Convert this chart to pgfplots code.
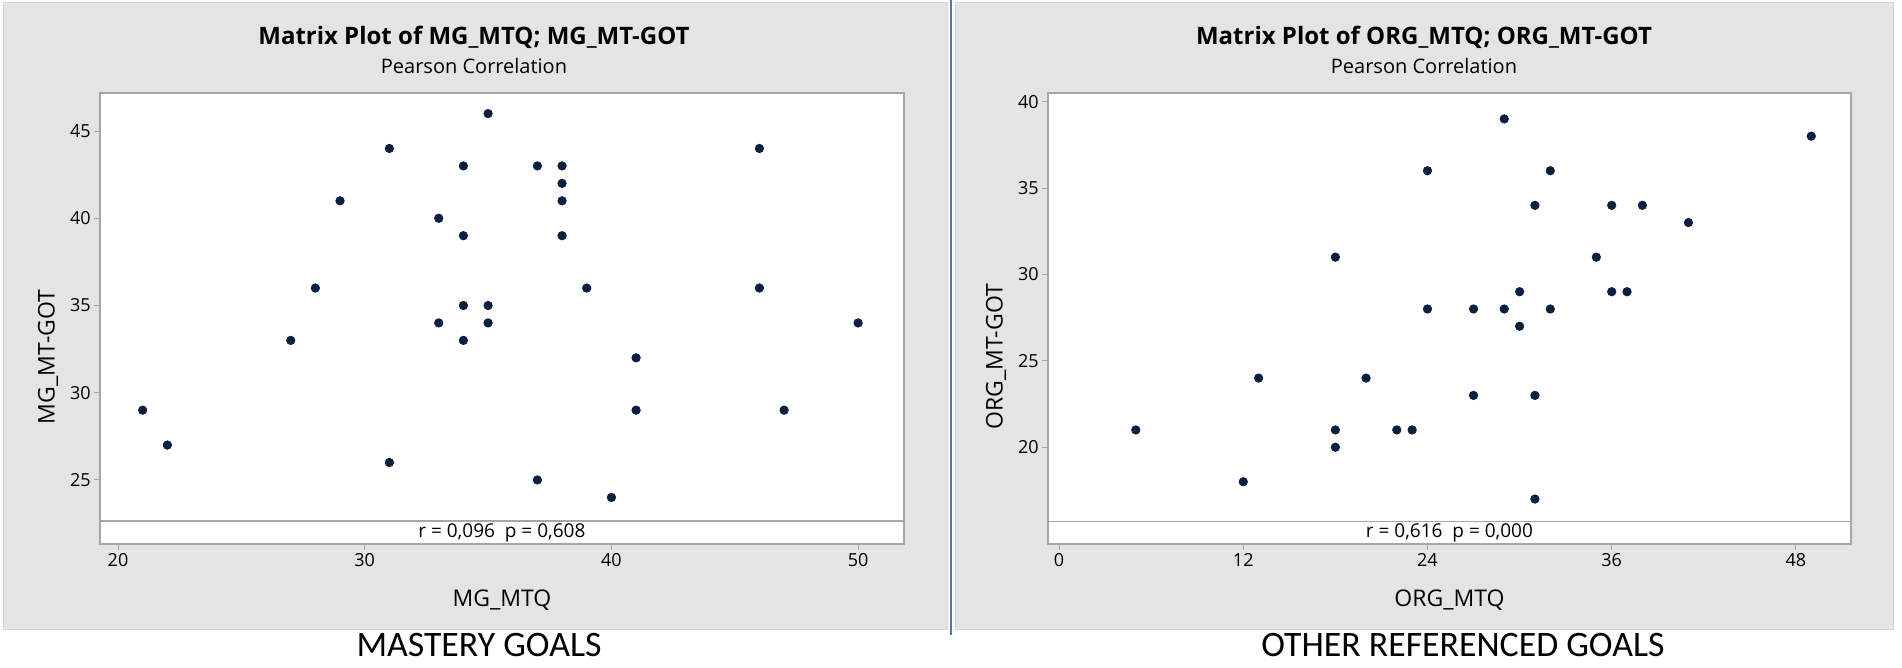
\documentclass[border=0pt]{standalone}
\usepackage{fontspec}
\setmainfont{Open Sans}
\newfontfamily\capfont{Carlito}
\usepackage{pgfplots}
\usepackage{pgfplotstable}
\pgfplotsset{compat=1.18}

\definecolor{panelgray}{HTML}{E4E4E4}
\definecolor{paneledge}{HTML}{D6D6D6}
\definecolor{framegray}{HTML}{A6A6A6}
\definecolor{dotblue}{HTML}{0B1F3F}
\definecolor{divider}{HTML}{4A7DAE}

% MG_MTQ vs MG_MT-GOT
\pgfplotstableread{
x y
35 46
31 44
46 44
34 43
37 43
38 43
38 42
38 41
29 41
33 40
34 39
38 39
28 36
39 36
46 36
34 35
35 35
33 34
35 34
50 34
27 33
34 33
41 32
21 29
41 29
47 29
22 27
31 26
37 25
40 24
}\mgdata

% ORG_MTQ vs ORG_MT-GOT
\pgfplotstableread{
x y
29 39
49 38
24 36
32 36
31 34
36 34
38 34
41 33
18 31
35 31
30 29
36 29
37 29
24 28
27 28
29 28
32 28
30 27
13 24
20 24
27 23
31 23
5 21
18 21
22 21
23 21
18 20
12 18
31 17
}\orgdata

\pgfplotsset{
  minitab/.style={
    scale only axis,
    height=225.5pt,
    anchor=south west,
    axis background/.style={fill=white},
    axis line style={draw=framegray, line width=0.6pt},
    tick align=outside,
    xtick pos=bottom,
    ytick pos=left,
    major tick length=3pt,
    tick style={draw=framegray, line width=0.5pt},
    /pgf/number format/assume math mode=true,
    tick label style={font=\fontsize{9}{10}\selectfont},
    xticklabel style={inner sep=1.5pt},
    yticklabel style={inner sep=1.5pt},
    label style={font=\fontsize{11.5}{13}\selectfont},
  },
  dots/.style={only marks, mark=*, mark size=2.1pt, color=dotblue},
}

\begin{document}
\begin{tikzpicture}
\useasboundingbox (0pt,0pt) rectangle (951pt,334pt);
% panels
\filldraw[fill=panelgray, draw=paneledge, line width=0.5pt] (1.5pt,19pt) rectangle (473.5pt,332.5pt);
\filldraw[fill=panelgray, draw=paneledge, line width=0.5pt] (477.5pt,19pt) rectangle (946.5pt,332.5pt);
\draw[divider, line width=1pt] (475.5pt,16.5pt) -- (475.5pt,334pt);

% titles
\node[font=\bfseries\fontsize{12}{14}\selectfont] at (237pt,315.5pt) {Matrix Plot of MG\_MTQ; MG\_MT-GOT};
\node[font=\fontsize{10}{12}\selectfont] at (237pt,301pt) {Pearson Correlation};
\node[font=\bfseries\fontsize{12}{14}\selectfont] at (712pt,315.5pt) {Matrix Plot of ORG\_MTQ; ORG\_MT-GOT};
\node[font=\fontsize{10}{12}\selectfont] at (712pt,301pt) {Pearson Correlation};

% left plot
\begin{axis}[minitab,
  at={(50pt,62pt)}, width=402pt,
  xmin=19.27, xmax=51.86, ymin=21.33, ymax=47.18,
  xtick={20,30,40,50}, ytick={25,30,35,40,45},
  xlabel={MG\_MTQ}, ylabel={MG\_MT-GOT},
  xlabel style={at={(axis description cs:0.5,-0.125)}, anchor=center},
  ylabel style={at={(axis description cs:-0.0647,0.415)}, anchor=center},
]
\addplot[dots] table[x=x, y=y] {\mgdata};
\draw[framegray, line width=0.6pt] (axis cs:19.27,22.65) -- (axis cs:51.86,22.65);
\node[font=\fontsize{9.5}{11}\selectfont] at (axis cs:35.56,21.99) {r = 0,096\ \ p = 0,608};
\end{axis}

% right plot
\begin{axis}[minitab,
  at={(524pt,62pt)}, width=401.5pt,
  xmin=-0.72, xmax=51.59, ymin=14.4, ymax=40.5,
  xtick={0,12,24,36,48}, ytick={20,25,30,35,40},
  xlabel={ORG\_MTQ}, ylabel={ORG\_MT-GOT},
  xlabel style={at={(axis description cs:0.5,-0.125)}, anchor=center},
  ylabel style={at={(axis description cs:-0.0648,0.415)}, anchor=center},
]
\addplot[dots] table[x=x, y=y] {\orgdata};
\draw[framegray, line width=0.6pt] (axis cs:-0.72,15.72) -- (axis cs:51.59,15.72);
\node[font=\fontsize{9.5}{11}\selectfont] at (axis cs:25.43,15.06) {r = 0,616\ \ p = 0,000};
\end{axis}

% panel captions
\node[font=\capfont\fontsize{17.9}{20}\selectfont] at (239.5pt,11.5pt) {MASTERY GOALS};
\node[font=\capfont\fontsize{17.9}{20}\selectfont] at (731.5pt,11.5pt) {OTHER REFERENCED GOALS};
\end{tikzpicture}
\end{document}
